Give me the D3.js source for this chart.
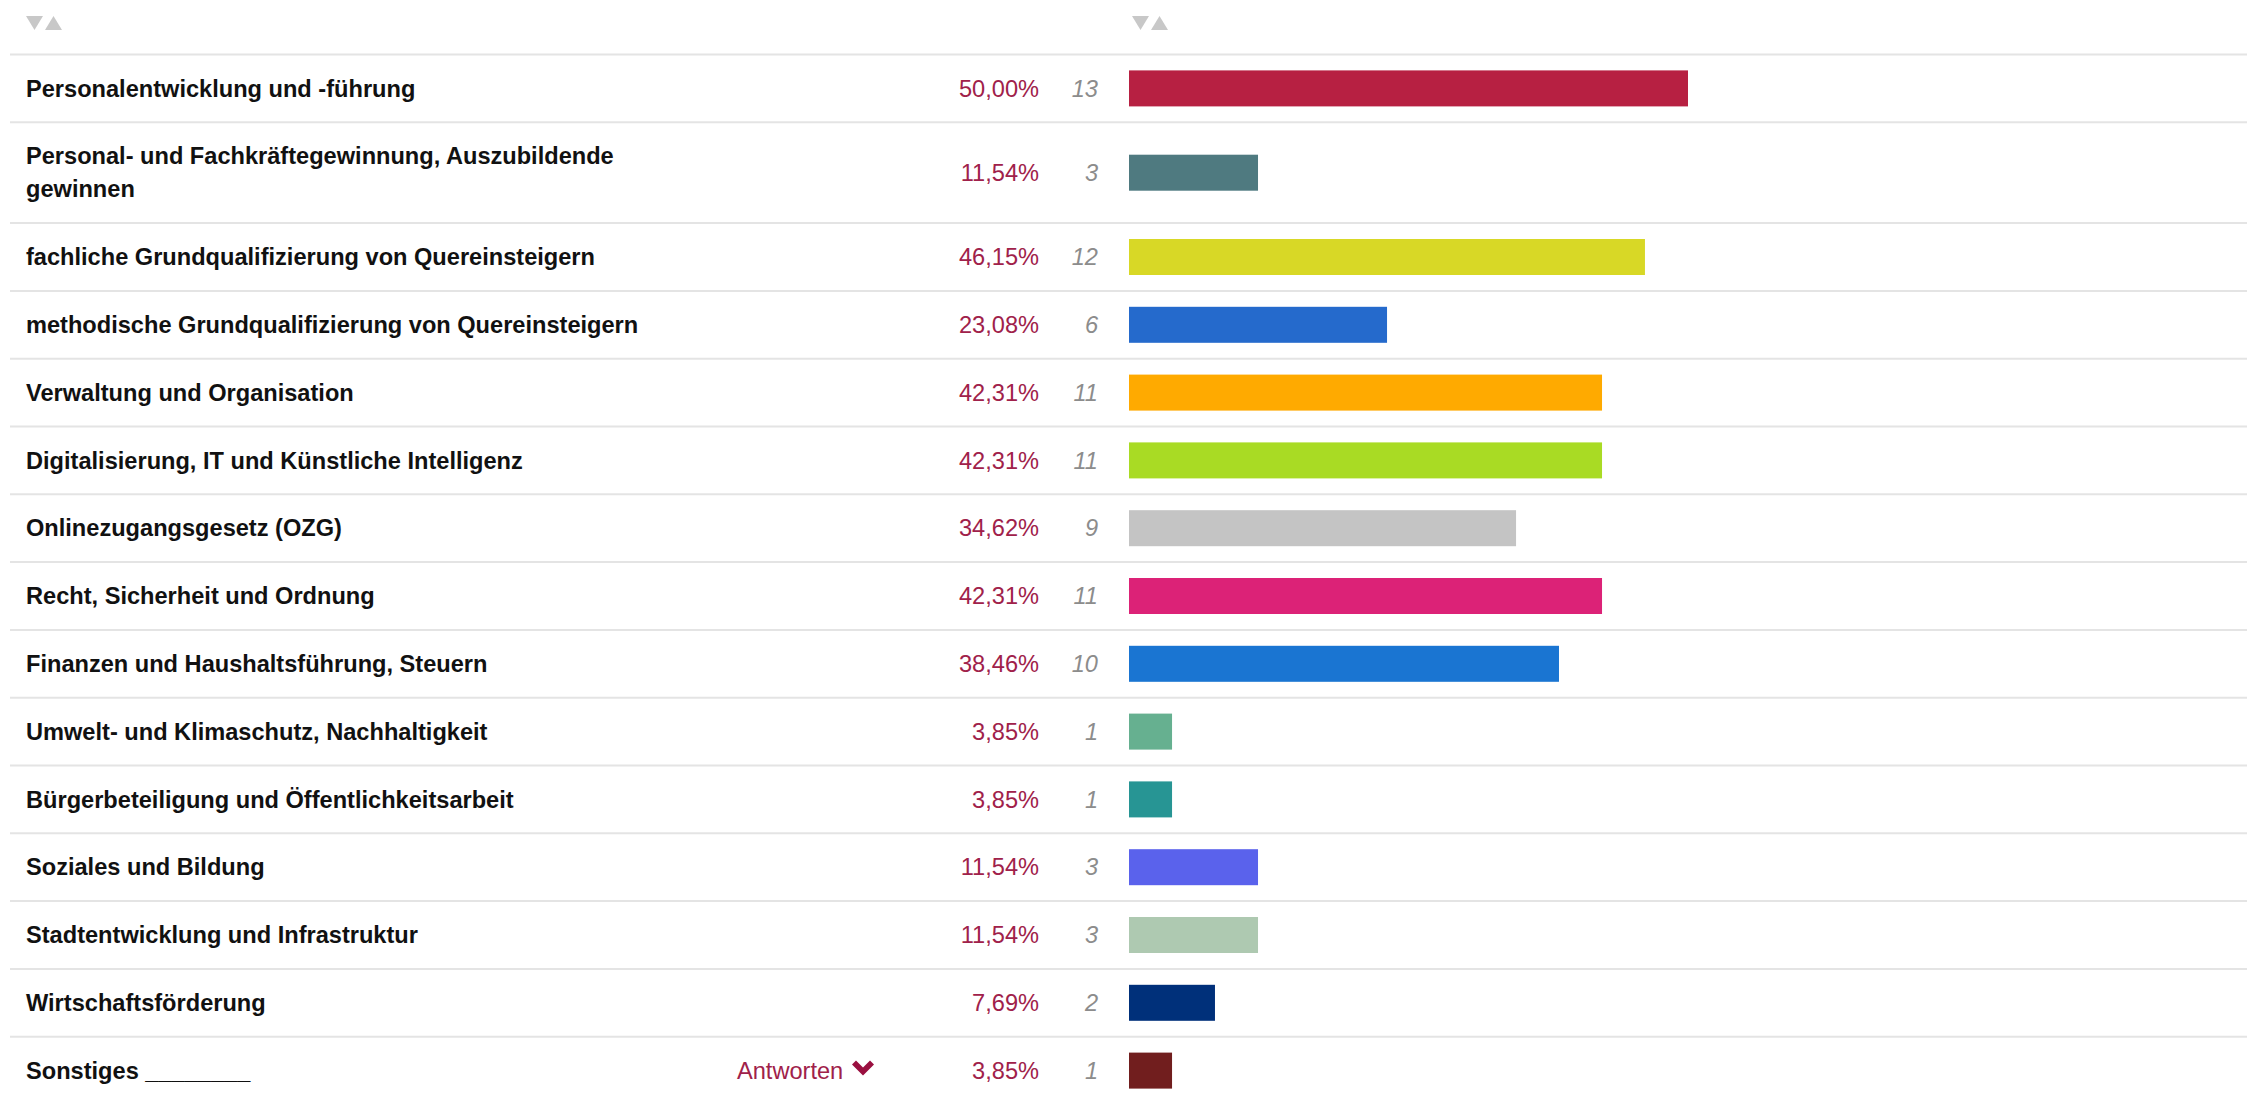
<!DOCTYPE html>
<html>
<head>
<meta charset="utf-8">
<script src="https://cdn.jsdelivr.net/npm/d3@7"></script>
<style>
    html, body { margin: 0; padding: 0; background: #fff; }
    .chart { width: 2247px; height: 1101px; overflow: hidden; }
    text { font-family: "Liberation Sans", Arial, sans-serif; }
</style>
</head>
<body>
<div class="chart"></div>
<script>
(function(){
    // answer options as shown in the table
    var categories = [
        "Personalentwicklung und -führung",
        "Personal- und Fachkräftegewinnung, Auszubildende gewinnen",
        "fachliche Grundqualifizierung von Quereinsteigern",
        "methodische Grundqualifizierung von Quereinsteigern",
        "Verwaltung und Organisation",
        "Digitalisierung, IT und Künstliche Intelligenz",
        "Onlinezugangsgesetz (OZG)",
        "Recht, Sicherheit und Ordnung",
        "Finanzen und Haushaltsführung, Steuern",
        "Umwelt- und Klimaschutz, Nachhaltigkeit",
        "Bürgerbeteiligung und Öffentlichkeitsarbeit",
        "Soziales und Bildung",
        "Stadtentwicklung und Infrastruktur",
        "Wirtschaftsförderung",
        "Sonstiges ________"
    ];
    var percents = [50.00, 11.54, 46.15, 23.08, 42.31, 42.31, 34.62, 42.31, 38.46, 3.85, 3.85, 11.54, 11.54, 7.69, 3.85];
    var counts = [13, 3, 12, 6, 11, 11, 9, 11, 10, 1, 1, 3, 3, 2, 1];
    var colors = ["#b72042", "#4f7a80", "#d8d826", "#256acc", "#ffaa00", "#a9db24", "#c4c4c4", "#dc2277",
                  "#1a75d2", "#66b090", "#279594", "#5a62ec", "#aec9b1", "#00307a", "#711e1e"];

    var width = 2247, height = 1101;
    var fontSize = 23.6;
    var labelX = 26, labelWrap = 640;
    var pctX = 1039, countX = 1098;
    var firstTop = 54.5, rowH = 67.8, lineH = 33;
    var barH = 36;
    var crimson = "#a0214a";

    var svg = d3.select(".chart").append("svg")
        .attr("width", width)
        .attr("height", height);

    // bar scale: 0 - 100 % over the right part of the table
    var x = d3.scaleLinear().domain([0, 100]).range([1129, width]);

    // sort icons in header
    function sortIcon(x0){
        var g = svg.append("g").attr("transform", "translate(" + x0 + ",16)").attr("fill", "#c8c8c8");
        g.append("path").attr("d", "M0,0 L17,0 L8.5,14 Z");
        g.append("path").attr("d", "M19,14 L36,14 L27.5,0 Z");
    }
    sortIcon(26);
    sortIcon(1132);

    // wrap labels to get line count per row
    var measure = svg.append("text").attr("font-size", fontSize).attr("font-weight", "bold").attr("visibility", "hidden");
    function wrap(str){
        var words = str.split(" "), lines = [], cur = "";
        words.forEach(function(w){
            var t = cur ? cur + " " + w : w;
            measure.text(t);
            if (cur && measure.node().getComputedTextLength() > labelWrap) {
                lines.push(cur);
                cur = w;
            } else {
                cur = t;
            }
        });
        lines.push(cur);
        return lines;
    }
    var rows = [];
    var top = firstTop;
    categories.forEach(function(c, i){
        var lines = wrap(c);
        var h = rowH + (lines.length - 1) * lineH;
        rows.push({label: c, lines: lines, top: top, h: h, pct: percents[i], n: counts[i], color: colors[i]});
        top += h;
    });
    measure.remove();

    // separator lines
    svg.selectAll(".sep").data(rows).enter()
        .append("line")
        .attr("class", "sep")
        .attr("x1", 10).attr("x2", width)
        .attr("y1", function(d){ return d.top; })
        .attr("y2", function(d){ return d.top; })
        .attr("stroke", "#e4e4e4")
        .attr("stroke-width", 2);

    var row = svg.selectAll(".row").data(rows).enter()
        .append("g")
        .attr("class", "row")
        .attr("transform", function(d){ return "translate(0," + (d.top + d.h / 2) + ")"; });

    // labels
    row.append("text")
        .attr("font-size", fontSize)
        .attr("font-weight", "bold")
        .attr("fill", "#111")
        .each(function(d){
            var t = d3.select(this);
            var off = -(d.lines.length - 1) * lineH / 2;
            d.lines.forEach(function(l, k){
                t.append("tspan")
                    .attr("x", labelX)
                    .attr("y", off + k * lineH)
                    .attr("dy", "0.35em")
                    .text(l);
            });
        });

    // percentages
    row.append("text")
        .attr("x", pctX)
        .attr("dy", "0.35em")
        .attr("text-anchor", "end")
        .attr("font-size", fontSize)
        .attr("fill", crimson)
        .text(function(d){ return d.pct.toFixed(2).replace(".", ",") + "%"; });

    // counts
    row.append("text")
        .attr("x", countX)
        .attr("dy", "0.35em")
        .attr("text-anchor", "end")
        .attr("font-size", fontSize)
        .attr("font-style", "italic")
        .attr("fill", "#8c8c8c")
        .text(function(d){ return d.n; });

    // bars
    row.append("rect")
        .attr("x", x(0))
        .attr("y", -barH / 2)
        .attr("width", function(d){ return x(d.pct) - x(0); })
        .attr("height", barH)
        .attr("fill", function(d){ return d.color; });

    // "Antworten" link on the last row
    var last = row.filter(function(d, i){ return i === rows.length - 1; });
    last.append("text")
        .attr("x", 737)
        .attr("dy", "0.35em")
        .attr("font-size", fontSize)
        .attr("fill", crimson)
        .text("Antworten");
    last.append("path")
        .attr("transform", "translate(863,0)")
        .attr("d", "M-11,-6 L-7,-10 L0,-3 L7,-10 L11,-6 L0,5 Z")
        .attr("fill", "#9a1040");

}())
</script>
</body>
</html>
